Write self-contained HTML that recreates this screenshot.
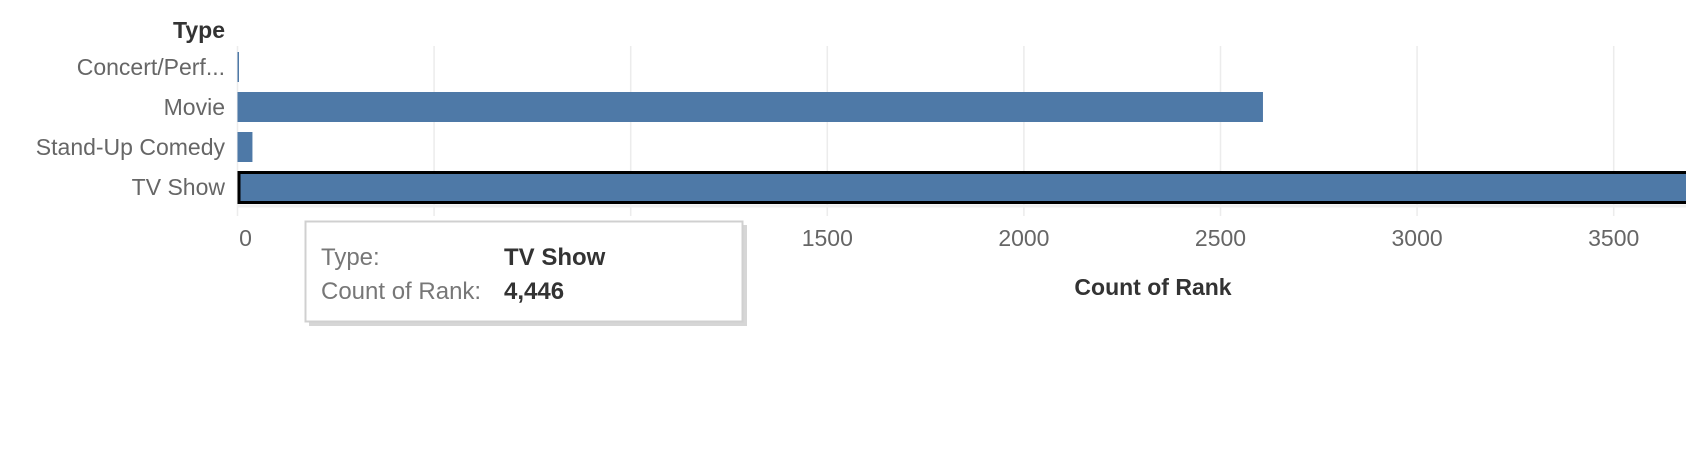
<!DOCTYPE html>
<html><head><meta charset="utf-8"><style>
html,body{margin:0;padding:0;background:#fff;width:1686px;height:474px;overflow:hidden}
svg{display:block;font-family:"Liberation Sans",sans-serif}
</style></head><body>
<svg id="chart" width="1686" height="474">
<text x="225" y="38" text-anchor="end" font-size="23" font-weight="bold" fill="#333">Type</text>
<g id="grid"></g>
<g id="bars"></g>
<g id="ylabels"></g>
<g id="xticks"></g>
<text x="1153" y="295" text-anchor="middle" font-size="23" font-weight="bold" fill="#333">Count of Rank</text>
<g>
<rect x="309" y="225" width="438" height="101" fill="#bbb" opacity="0.6"/>
<rect x="305.5" y="221.5" width="437" height="100" fill="#fff" stroke="#d0d0d0" stroke-width="2"/>
<text x="321" y="265" font-size="24" fill="#777">Type:</text>
<text x="504" y="265" font-size="24" font-weight="bold" fill="#333">TV Show</text>
<text x="321" y="299" font-size="24" fill="#777">Count of Rank:</text>
<text x="504" y="299" font-size="24" font-weight="bold" fill="#333">4,446</text>
</g>
</svg>
<script>
const categories = ["Concert/Perf...", "Movie", "Stand-Up Comedy", "TV Show"];
const counts = [3, 2608, 38, 4446];
const ticks = [0, 500, 1000, 1500, 2000, 2500, 3000, 3500];
const tickLabels = ["0", "", "", "1500", "2000", "2500", "3000", "3500"];

const NS = "http://www.w3.org/2000/svg";
const x0 = 237.5, pxPer = 0.3932;
function xs(v){ return x0 + v * pxPer; }
const rowTop = [52, 92, 132, 171];
function yc(i){ return 67 + i * 40; }
function mk(tag, attrs, parent){ const e = document.createElementNS(NS, tag); for (const k in attrs) e.setAttribute(k, attrs[k]); parent.appendChild(e); return e; }

const grid = document.getElementById('grid');
ticks.forEach((t, i) => {
  const l = mk('line', {x1: xs(t), x2: xs(t), y1: 46, y2: 216, stroke: '#ececec', 'stroke-width': 1.5}, grid);
  
  
});
const base = mk('line', {x1: x0, x2: 1686, y1: 206, y2: 206, stroke: '#efefef', 'stroke-width': 3}, grid);



const bars = document.getElementById('bars');
const ylab = document.getElementById('ylabels');
categories.forEach((c, i) => {
  const top = yc(i) - 15;
  const w = Math.max(1.5, xs(counts[i]) - x0);
  const r = mk('rect', {x: x0, y: top, width: w, height: 30, fill: '#4e79a7'}, bars);
  if (i === 3) { r.setAttribute('stroke', '#000'); r.setAttribute('stroke-width', '3'); r.setAttribute('y', top + 0.5); r.setAttribute('x', x0 + 1.5); }
  
  
  const t = mk('text', {x: 225, y: yc(i) + 8, 'text-anchor': 'end', 'font-size': 23, fill: '#666'}, ylab);
  t.textContent = c;
  
  
});

const xt = document.getElementById('xticks');
ticks.forEach((t, i) => {
  if (!tickLabels[i]) return;
  const tx = mk('text', {x: i === 0 ? xs(t) + 8 : xs(t), y: 246, 'text-anchor': 'middle', 'font-size': 23, fill: '#666'}, xt);
  tx.textContent = tickLabels[i];
  
  
});
</script>
</body></html>
